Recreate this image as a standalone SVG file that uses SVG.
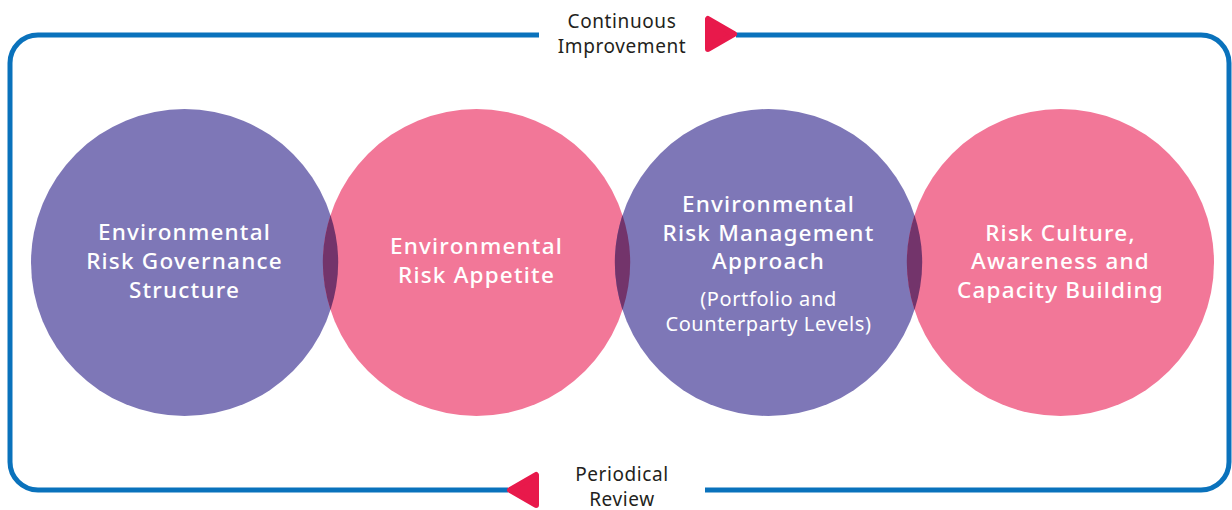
<svg xmlns="http://www.w3.org/2000/svg" width="1232" height="510" viewBox="0 0 1232 510">
  <style>
    .purple { fill: #7E77B7; }
    .pink { fill: #F27798; }
    .lens { fill: #73346B; }
    .frame { fill: none; stroke: #0A72BC; stroke-width: 5; stroke-linecap: butt; }
    .arrow { fill: #E8194B; stroke: #E8194B; stroke-width: 6; stroke-linejoin: round; }
    .label { font-family: "Noto Sans", "Open Sans", sans-serif; font-size: 19px; fill: #231F20; text-anchor: middle; letter-spacing: 0.6px; }
    .title { font-family: "Noto Sans", "Open Sans", sans-serif; font-size: 22.5px; font-weight: 500; fill: #FFFFFF; text-anchor: middle; letter-spacing: 1.2px; }
    .sub { font-family: "Noto Sans", "Open Sans", sans-serif; font-size: 20px; font-weight: 400; fill: #FFFFFF; text-anchor: middle; letter-spacing: 0.6px; }
  </style>

  <g id="connectors">
    <path class="frame" d="M539,35 H38 A28,28 0 0 0 10,63 V462 A28,28 0 0 0 38,490 H508"/>
    <path class="frame" d="M705,490 H1201 A28,28 0 0 0 1229,462 V63 A28,28 0 0 0 1201,35 H736"/>
    <polygon class="arrow" points="708,19 708,49 734,34"/>
    <polygon class="arrow" points="510,490 536,475 536,505"/>
    <text class="label" x="622" y="28">Continuous</text>
    <text class="label" x="622" y="53">Improvement</text>
    <text class="label" x="622" y="481">Periodical</text>
    <text class="label" x="622" y="506">Review</text>
  </g>

  <g id="node-governance">
    <circle class="purple" cx="184.5" cy="262.5" r="153.5"/>
    <text class="title" x="184.5" y="240">Environmental</text>
    <text class="title" x="184.5" y="269">Risk Governance</text>
    <text class="title" x="184.5" y="298">Structure</text>
  </g>

  <g id="node-appetite">
    <circle class="pink" cx="476.5" cy="262.5" r="153.5"/>
    <text class="title" x="476.5" y="254">Environmental</text>
    <text class="title" x="476.5" y="283">Risk Appetite</text>
  </g>

  <g id="node-management">
    <circle class="purple" cx="768.5" cy="262.5" r="153.5"/>
    <text class="title" x="768.5" y="212">Environmental</text>
    <text class="title" x="768.5" y="241">Risk Management</text>
    <text class="title" x="768.5" y="269">Approach</text>
    <text class="sub" x="768.5" y="306">(Portfolio and</text>
    <text class="sub" x="768.5" y="331">Counterparty Levels)</text>
  </g>

  <g id="node-culture">
    <circle class="pink" cx="1060.5" cy="262.5" r="153.5"/>
    <text class="title" x="1060.5" y="241">Risk Culture,</text>
    <text class="title" x="1060.5" y="269">Awareness and</text>
    <text class="title" x="1060.5" y="298">Capacity Building</text>
  </g>

  <g id="overlaps">
    <path class="lens" d="M330.5,215.1 A153.5,153.5 0 0 1 330.5,309.9 A153.5,153.5 0 0 1 330.5,215.1 Z"/>
    <path class="lens" d="M622.5,215.1 A153.5,153.5 0 0 1 622.5,309.9 A153.5,153.5 0 0 1 622.5,215.1 Z"/>
    <path class="lens" d="M914.5,215.1 A153.5,153.5 0 0 1 914.5,309.9 A153.5,153.5 0 0 1 914.5,215.1 Z"/>
  </g>
</svg>
